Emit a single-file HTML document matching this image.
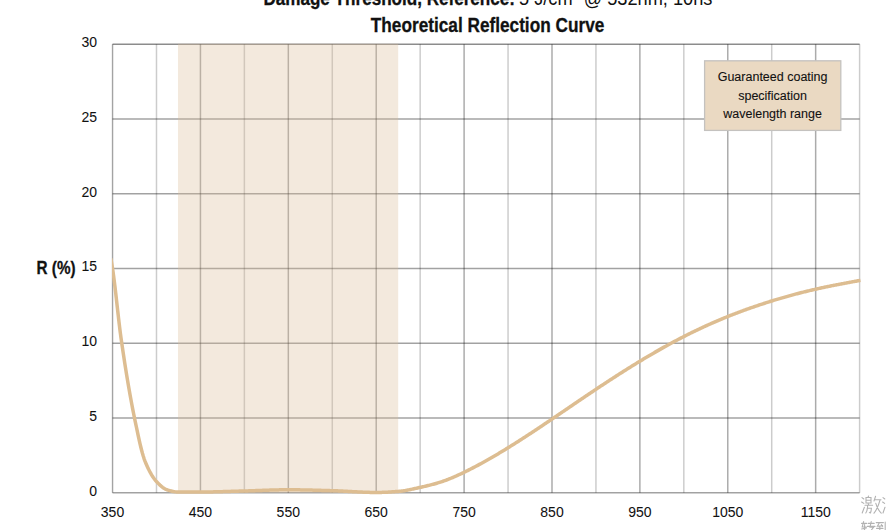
<!DOCTYPE html>
<html><head><meta charset="utf-8"><style>
html,body{margin:0;padding:0;background:#fff;width:886px;height:530px;overflow:hidden}
svg{display:block}
text{font-family:"Liberation Sans",sans-serif}
.ax{font-size:14px;fill:#111;stroke:#111;stroke-width:0.05px}
.b{font-weight:bold;stroke:#111;stroke-width:0.3px}
</style></head><body>
<svg width="886" height="530" viewBox="0 0 886 530">
<rect width="886" height="530" fill="#fff"/>
<text x="263.4" y="5.4" class="b" font-size="20" fill="#111" textLength="251.6" lengthAdjust="spacingAndGlyphs">Damage Threshold, Reference:</text>
<text x="519.0" y="5.4" font-size="20" fill="#111" textLength="193.4" lengthAdjust="spacingAndGlyphs">5 J/cm² @ 532nm, 10ns</text>
<text x="370.8" y="32" class="b" font-size="20" fill="#111" textLength="233.5" lengthAdjust="spacingAndGlyphs">Theoretical Reflection Curve</text>
<line x1="112.55" y1="44.35" x2="112.55" y2="492.77" stroke="#000" stroke-opacity="0.36" stroke-width="1.4"/><line x1="156.49" y1="44.35" x2="156.49" y2="492.77" stroke="#000" stroke-opacity="0.2" stroke-width="1.5"/><line x1="200.44" y1="44.35" x2="200.44" y2="492.77" stroke="#000" stroke-opacity="0.33" stroke-width="1.5"/><line x1="244.38" y1="44.35" x2="244.38" y2="492.77" stroke="#000" stroke-opacity="0.2" stroke-width="1.5"/><line x1="288.33" y1="44.35" x2="288.33" y2="492.77" stroke="#000" stroke-opacity="0.33" stroke-width="1.5"/><line x1="332.27" y1="44.35" x2="332.27" y2="492.77" stroke="#000" stroke-opacity="0.2" stroke-width="1.5"/><line x1="376.21" y1="44.35" x2="376.21" y2="492.77" stroke="#000" stroke-opacity="0.33" stroke-width="1.5"/><line x1="420.16" y1="44.35" x2="420.16" y2="492.77" stroke="#000" stroke-opacity="0.2" stroke-width="1.5"/><line x1="464.10" y1="44.35" x2="464.10" y2="492.77" stroke="#000" stroke-opacity="0.33" stroke-width="1.5"/><line x1="508.05" y1="44.35" x2="508.05" y2="492.77" stroke="#000" stroke-opacity="0.2" stroke-width="1.5"/><line x1="551.99" y1="44.35" x2="551.99" y2="492.77" stroke="#000" stroke-opacity="0.33" stroke-width="1.5"/><line x1="595.94" y1="44.35" x2="595.94" y2="492.77" stroke="#000" stroke-opacity="0.2" stroke-width="1.5"/><line x1="639.88" y1="44.35" x2="639.88" y2="492.77" stroke="#000" stroke-opacity="0.33" stroke-width="1.5"/><line x1="683.82" y1="44.35" x2="683.82" y2="492.77" stroke="#000" stroke-opacity="0.2" stroke-width="1.5"/><line x1="727.77" y1="44.35" x2="727.77" y2="492.77" stroke="#000" stroke-opacity="0.33" stroke-width="1.5"/><line x1="771.71" y1="44.35" x2="771.71" y2="492.77" stroke="#000" stroke-opacity="0.2" stroke-width="1.5"/><line x1="815.66" y1="44.35" x2="815.66" y2="492.77" stroke="#000" stroke-opacity="0.33" stroke-width="1.5"/><line x1="859.60" y1="44.35" x2="859.60" y2="492.77" stroke="#000" stroke-opacity="0.2" stroke-width="1.5"/><line x1="112.55" y1="492.77" x2="859.6" y2="492.77" stroke="#000" stroke-opacity="0.365" stroke-width="1.5"/><line x1="112.55" y1="418.03" x2="859.6" y2="418.03" stroke="#000" stroke-opacity="0.365" stroke-width="1.5"/><line x1="112.55" y1="343.30" x2="859.6" y2="343.30" stroke="#000" stroke-opacity="0.365" stroke-width="1.5"/><line x1="112.55" y1="268.56" x2="859.6" y2="268.56" stroke="#000" stroke-opacity="0.365" stroke-width="1.5"/><line x1="112.55" y1="193.82" x2="859.6" y2="193.82" stroke="#000" stroke-opacity="0.365" stroke-width="1.5"/><line x1="112.55" y1="119.09" x2="859.6" y2="119.09" stroke="#000" stroke-opacity="0.365" stroke-width="1.5"/><line x1="112.55" y1="44.35" x2="859.6" y2="44.35" stroke="#000" stroke-opacity="0.45" stroke-width="1.5"/>
<rect x="177.97" y="43.75" width="220.22" height="449.02" fill="rgb(219,188,152)" fill-opacity="0.33"/>
<clipPath id="pc"><rect x="111.9" y="0" width="749.1" height="530"/></clipPath>
<path d="M110.79,258.40 L111.01,259.58 L111.23,260.78 L111.45,261.99 L111.67,263.23 L111.89,264.50 L112.11,265.80 L112.33,267.16 L112.55,268.56 L112.77,270.02 L112.99,271.52 L113.21,273.07 L113.43,274.66 L113.65,276.30 L113.87,277.97 L114.09,279.67 L114.31,281.41 L114.53,283.18 L114.75,284.98 L114.97,286.80 L115.19,288.65 L115.41,290.52 L115.63,292.41 L115.85,294.31 L116.07,296.23 L116.29,298.16 L116.50,300.10 L116.72,302.04 L116.94,304.00 L117.16,305.95 L117.38,307.90 L117.60,309.85 L117.82,311.80 L118.04,313.73 L118.26,315.66 L118.48,317.58 L118.70,319.48 L118.92,321.36 L119.14,323.23 L119.36,325.07 L119.58,326.89 L119.80,328.69 L120.02,330.45 L120.24,332.19 L120.46,333.89 L120.68,335.55 L120.90,337.18 L121.12,338.76 L121.34,340.31 L122.22,346.33 L123.10,352.24 L123.98,358.04 L124.85,363.72 L125.73,369.28 L126.61,374.72 L127.49,380.03 L128.37,385.23 L129.25,390.30 L130.13,395.24 L131.01,400.06 L131.89,404.75 L132.76,409.31 L133.64,413.74 L134.52,418.03 L135.40,422.27 L136.28,426.51 L137.16,430.71 L138.04,434.85 L138.92,438.88 L139.80,442.78 L140.67,446.50 L141.55,450.02 L142.43,453.30 L143.31,456.31 L144.19,459.02 L145.07,461.38 L145.95,463.51 L146.83,465.55 L147.71,467.48 L148.58,469.32 L149.46,471.05 L150.34,472.70 L151.22,474.24 L152.10,475.69 L152.98,477.05 L153.86,478.32 L154.74,479.49 L155.62,480.57 L156.49,481.56 L157.37,482.49 L158.25,483.40 L159.13,484.28 L160.01,485.13 L160.89,485.92 L161.77,486.67 L162.65,487.36 L163.53,488.00 L164.40,488.56 L165.28,489.05 L166.16,489.46 L167.04,489.78 L167.92,490.05 L168.80,490.32 L169.68,490.58 L170.56,490.82 L171.44,491.05 L172.31,491.26 L173.19,491.44 L174.07,491.61 L174.95,491.75 L175.83,491.87 L176.71,491.95 L177.59,492.00 L178.47,492.02 L179.35,492.02 L180.22,492.02 L181.10,492.02 L181.98,492.02 L182.86,492.02 L183.74,492.02 L184.62,492.02 L185.50,492.02 L186.38,492.02 L187.25,492.02 L188.13,492.02 L189.01,492.02 L189.89,492.02 L190.77,492.02 L191.65,492.02 L192.53,492.02 L193.41,492.02 L194.29,492.02 L195.16,492.02 L196.04,492.02 L196.92,492.02 L197.80,492.02 L198.68,492.02 L199.56,492.02 L200.44,492.02 L201.32,492.02 L202.20,492.02 L203.07,492.02 L203.95,492.01 L204.83,492.00 L205.71,492.00 L206.59,491.99 L207.47,491.97 L208.35,491.96 L209.23,491.95 L210.11,491.94 L210.98,491.92 L211.86,491.90 L212.74,491.89 L213.62,491.87 L214.50,491.85 L215.38,491.83 L216.26,491.81 L217.14,491.78 L218.02,491.76 L218.89,491.74 L219.77,491.71 L220.65,491.69 L221.53,491.66 L222.41,491.64 L223.29,491.61 L224.17,491.59 L225.05,491.56 L225.93,491.53 L226.80,491.51 L227.68,491.48 L228.56,491.45 L229.44,491.42 L230.32,491.39 L231.20,491.37 L232.08,491.34 L232.96,491.31 L233.84,491.28 L234.71,491.26 L235.59,491.23 L236.47,491.20 L237.35,491.17 L238.23,491.15 L239.11,491.12 L239.99,491.10 L240.87,491.07 L241.75,491.05 L242.62,491.02 L243.50,491.00 L244.38,490.98 L245.26,490.95 L246.14,490.93 L247.02,490.90 L247.90,490.88 L248.78,490.85 L249.66,490.83 L250.53,490.80 L251.41,490.77 L252.29,490.74 L253.17,490.71 L254.05,490.68 L254.93,490.65 L255.81,490.62 L256.69,490.59 L257.57,490.55 L258.44,490.52 L259.32,490.49 L260.20,490.46 L261.08,490.43 L261.96,490.39 L262.84,490.36 L263.72,490.33 L264.60,490.30 L265.48,490.27 L266.35,490.24 L267.23,490.21 L268.11,490.18 L268.99,490.15 L269.87,490.12 L270.75,490.09 L271.63,490.07 L272.51,490.04 L273.39,490.02 L274.26,489.99 L275.14,489.97 L276.02,489.95 L276.90,489.93 L277.78,489.91 L278.66,489.89 L279.54,489.87 L280.42,489.85 L281.30,489.84 L282.17,489.83 L283.05,489.81 L283.93,489.80 L284.81,489.80 L285.69,489.79 L286.57,489.78 L287.45,489.78 L288.33,489.78 L289.21,489.78 L290.08,489.78 L290.96,489.79 L291.84,489.79 L292.72,489.79 L293.60,489.80 L294.48,489.81 L295.36,489.82 L296.24,489.83 L297.12,489.84 L297.99,489.85 L298.87,489.86 L299.75,489.87 L300.63,489.88 L301.51,489.90 L302.39,489.91 L303.27,489.93 L304.15,489.95 L305.03,489.96 L305.90,489.98 L306.78,490.00 L307.66,490.02 L308.54,490.04 L309.42,490.06 L310.30,490.08 L311.18,490.10 L312.06,490.12 L312.94,490.14 L313.81,490.17 L314.69,490.19 L315.57,490.21 L316.45,490.24 L317.33,490.26 L318.21,490.28 L319.09,490.31 L319.97,490.33 L320.85,490.36 L321.72,490.38 L322.60,490.41 L323.48,490.43 L324.36,490.46 L325.24,490.48 L326.12,490.51 L327.00,490.53 L327.88,490.56 L328.76,490.58 L329.63,490.60 L330.51,490.63 L331.39,490.65 L332.27,490.68 L333.15,490.70 L334.03,490.73 L334.91,490.76 L335.79,490.79 L336.67,490.82 L337.54,490.86 L338.42,490.90 L339.30,490.94 L340.18,490.98 L341.06,491.02 L341.94,491.06 L342.82,491.10 L343.70,491.15 L344.57,491.19 L345.45,491.24 L346.33,491.29 L347.21,491.34 L348.09,491.38 L348.97,491.43 L349.85,491.48 L350.73,491.53 L351.61,491.58 L352.48,491.63 L353.36,491.68 L354.24,491.72 L355.12,491.77 L356.00,491.82 L356.88,491.86 L357.76,491.91 L358.64,491.95 L359.52,492.00 L360.39,492.04 L361.27,492.08 L362.15,492.12 L363.03,492.16 L363.91,492.20 L364.79,492.23 L365.67,492.26 L366.55,492.29 L367.43,492.32 L368.30,492.35 L369.18,492.37 L370.06,492.40 L370.94,492.41 L371.82,492.43 L372.70,492.45 L373.58,492.46 L374.46,492.46 L375.34,492.47 L376.21,492.47 L377.09,492.47 L377.97,492.46 L378.85,492.45 L379.73,492.44 L380.61,492.42 L381.49,492.39 L382.37,492.36 L383.25,492.33 L384.12,492.30 L385.00,492.26 L385.88,492.22 L386.76,492.18 L387.64,492.13 L388.52,492.08 L389.40,492.03 L390.28,491.98 L391.16,491.92 L392.03,491.87 L392.91,491.81 L393.79,491.75 L394.67,491.68 L395.55,491.62 L396.43,491.56 L397.31,491.49 L398.19,491.42 L399.07,491.35 L399.94,491.27 L400.82,491.17 L401.70,491.06 L402.58,490.94 L403.46,490.82 L404.34,490.68 L405.22,490.54 L406.10,490.38 L406.98,490.22 L407.85,490.06 L408.73,489.88 L409.61,489.71 L410.49,489.52 L411.37,489.34 L412.25,489.15 L413.13,488.95 L414.01,488.76 L414.89,488.56 L415.76,488.36 L416.64,488.17 L417.52,487.97 L418.40,487.78 L419.28,487.58 L420.16,487.39 L421.04,487.20 L421.92,487.00 L422.80,486.80 L423.67,486.60 L424.55,486.40 L425.43,486.19 L426.31,485.99 L427.19,485.77 L428.07,485.56 L428.95,485.34 L429.83,485.12 L430.71,484.89 L431.58,484.66 L432.46,484.43 L433.34,484.19 L434.22,483.95 L435.10,483.71 L435.98,483.46 L436.86,483.20 L437.74,482.94 L438.62,482.68 L439.49,482.41 L440.37,482.13 L441.25,481.85 L442.13,481.56 L443.01,481.26 L443.89,480.96 L444.77,480.65 L445.65,480.32 L446.53,480.00 L447.40,479.66 L448.28,479.32 L449.16,478.97 L450.04,478.62 L450.92,478.25 L451.80,477.89 L452.68,477.52 L453.56,477.14 L454.44,476.76 L455.31,476.37 L456.19,475.98 L457.07,475.59 L457.95,475.19 L458.83,474.78 L459.71,474.38 L460.59,473.97 L461.47,473.55 L462.35,473.14 L463.22,472.72 L464.10,472.29 L464.98,471.87 L465.86,471.44 L466.74,471.00 L467.62,470.57 L468.50,470.13 L469.38,469.68 L470.26,469.24 L471.13,468.79 L472.01,468.34 L472.89,467.88 L473.77,467.43 L474.65,466.97 L475.53,466.51 L476.41,466.04 L477.29,465.58 L478.17,465.11 L479.04,464.63 L479.92,464.16 L480.80,463.68 L481.68,463.20 L482.56,462.72 L483.44,462.23 L484.32,461.75 L485.20,461.26 L486.08,460.77 L486.95,460.27 L487.83,459.77 L488.71,459.28 L489.59,458.77 L490.47,458.27 L491.35,457.77 L492.23,457.26 L493.11,456.75 L493.98,456.24 L494.86,455.72 L495.74,455.21 L496.62,454.69 L497.50,454.17 L498.38,453.65 L499.26,453.12 L500.14,452.60 L501.02,452.07 L501.89,451.54 L502.77,451.01 L503.65,450.47 L504.53,449.94 L505.41,449.40 L506.29,448.86 L507.17,448.32 L508.05,447.78 L508.93,447.23 L509.80,446.69 L510.68,446.14 L511.56,445.59 L512.44,445.04 L513.32,444.49 L514.20,443.94 L515.08,443.38 L515.96,442.83 L516.84,442.27 L517.71,441.71 L518.59,441.15 L519.47,440.59 L520.35,440.03 L521.23,439.46 L522.11,438.89 L522.99,438.33 L523.87,437.76 L524.75,437.19 L525.62,436.62 L526.50,436.05 L527.38,435.48 L528.26,434.90 L529.14,434.33 L530.02,433.75 L530.90,433.17 L531.78,432.60 L532.66,432.02 L533.53,431.44 L534.41,430.85 L535.29,430.27 L536.17,429.69 L537.05,429.11 L537.93,428.52 L538.81,427.94 L539.69,427.35 L540.57,426.76 L541.44,426.18 L542.32,425.59 L543.20,425.00 L544.08,424.41 L544.96,423.82 L545.84,423.23 L546.72,422.64 L547.60,422.05 L548.48,421.45 L549.35,420.86 L550.23,420.27 L551.11,419.67 L551.99,419.08 L552.87,418.49 L553.75,417.89 L554.63,417.29 L555.51,416.70 L556.39,416.10 L557.26,415.51 L558.14,414.91 L559.02,414.31 L559.90,413.72 L560.78,413.12 L561.66,412.52 L562.54,411.92 L563.42,411.33 L564.30,410.73 L565.17,410.13 L566.05,409.53 L566.93,408.94 L567.81,408.34 L568.69,407.74 L569.57,407.14 L570.45,406.54 L571.33,405.95 L572.21,405.35 L573.08,404.75 L573.96,404.15 L574.84,403.56 L575.72,402.96 L576.60,402.36 L577.48,401.77 L578.36,401.17 L579.24,400.57 L580.12,399.98 L580.99,399.38 L581.87,398.79 L582.75,398.19 L583.63,397.60 L584.51,397.01 L585.39,396.41 L586.27,395.82 L587.15,395.23 L588.03,394.63 L588.90,394.04 L589.78,393.45 L590.66,392.86 L591.54,392.27 L592.42,391.68 L593.30,391.10 L594.18,390.51 L595.06,389.92 L595.94,389.33 L596.81,388.75 L597.69,388.16 L598.57,387.58 L599.45,387.00 L600.33,386.41 L601.21,385.83 L602.09,385.25 L602.97,384.67 L603.85,384.09 L604.72,383.51 L605.60,382.94 L606.48,382.36 L607.36,381.79 L608.24,381.21 L609.12,380.64 L610.00,380.06 L610.88,379.49 L611.76,378.92 L612.63,378.35 L613.51,377.78 L614.39,377.21 L615.27,376.65 L616.15,376.08 L617.03,375.52 L617.91,374.95 L618.79,374.39 L619.67,373.83 L620.54,373.27 L621.42,372.71 L622.30,372.15 L623.18,371.59 L624.06,371.04 L624.94,370.48 L625.82,369.93 L626.70,369.37 L627.58,368.82 L628.45,368.27 L629.33,367.72 L630.21,367.17 L631.09,366.63 L631.97,366.08 L632.85,365.54 L633.73,365.00 L634.61,364.45 L635.49,363.91 L636.36,363.38 L637.24,362.84 L638.12,362.30 L639.00,361.77 L639.88,361.23 L640.76,360.70 L641.64,360.17 L642.52,359.64 L643.39,359.11 L644.27,358.59 L645.15,358.06 L646.03,357.54 L646.91,357.02 L647.79,356.50 L648.67,355.98 L649.55,355.46 L650.43,354.94 L651.30,354.43 L652.18,353.92 L653.06,353.40 L653.94,352.89 L654.82,352.39 L655.70,351.88 L656.58,351.37 L657.46,350.87 L658.34,350.37 L659.21,349.87 L660.09,349.37 L660.97,348.87 L661.85,348.38 L662.73,347.88 L663.61,347.39 L664.49,346.90 L665.37,346.41 L666.25,345.93 L667.12,345.44 L668.00,344.96 L668.88,344.48 L669.76,344.00 L670.64,343.52 L671.52,343.04 L672.40,342.57 L673.28,342.10 L674.16,341.62 L675.03,341.16 L675.91,340.69 L676.79,340.22 L677.67,339.76 L678.55,339.30 L679.43,338.84 L680.31,338.38 L681.19,337.93 L682.07,337.47 L682.94,337.02 L683.82,336.57 L684.70,336.12 L685.58,335.68 L686.46,335.23 L687.34,334.79 L688.22,334.35 L689.10,333.91 L689.98,333.48 L690.85,333.04 L691.73,332.61 L692.61,332.18 L693.49,331.75 L694.37,331.33 L695.25,330.90 L696.13,330.48 L697.01,330.06 L697.89,329.64 L698.76,329.22 L699.64,328.81 L700.52,328.40 L701.40,327.98 L702.28,327.58 L703.16,327.17 L704.04,326.76 L704.92,326.36 L705.80,325.96 L706.67,325.56 L707.55,325.16 L708.43,324.77 L709.31,324.37 L710.19,323.98 L711.07,323.59 L711.95,323.20 L712.83,322.82 L713.71,322.43 L714.58,322.05 L715.46,321.67 L716.34,321.29 L717.22,320.91 L718.10,320.54 L718.98,320.17 L719.86,319.80 L720.74,319.43 L721.62,319.06 L722.49,318.69 L723.37,318.33 L724.25,317.97 L725.13,317.61 L726.01,317.25 L726.89,316.90 L727.77,316.54 L728.65,316.19 L729.53,315.84 L730.40,315.49 L731.28,315.14 L732.16,314.80 L733.04,314.45 L733.92,314.11 L734.80,313.77 L735.68,313.43 L736.56,313.10 L737.44,312.76 L738.31,312.43 L739.19,312.10 L740.07,311.77 L740.95,311.44 L741.83,311.12 L742.71,310.79 L743.59,310.47 L744.47,310.15 L745.35,309.83 L746.22,309.51 L747.10,309.20 L747.98,308.88 L748.86,308.57 L749.74,308.26 L750.62,307.95 L751.50,307.64 L752.38,307.34 L753.26,307.03 L754.13,306.73 L755.01,306.43 L755.89,306.13 L756.77,305.83 L757.65,305.54 L758.53,305.24 L759.41,304.95 L760.29,304.66 L761.17,304.37 L762.04,304.08 L762.92,303.79 L763.80,303.50 L764.68,303.22 L765.56,302.94 L766.44,302.65 L767.32,302.37 L768.20,302.10 L769.08,301.82 L769.95,301.54 L770.83,301.27 L771.71,301.00 L772.59,300.72 L773.47,300.45 L774.35,300.19 L775.23,299.92 L776.11,299.65 L776.99,299.39 L777.86,299.12 L778.74,298.86 L779.62,298.60 L780.50,298.34 L781.38,298.09 L782.26,297.83 L783.14,297.58 L784.02,297.32 L784.89,297.07 L785.77,296.82 L786.65,296.57 L787.53,296.32 L788.41,296.08 L789.29,295.83 L790.17,295.59 L791.05,295.35 L791.93,295.11 L792.80,294.87 L793.68,294.63 L794.56,294.40 L795.44,294.16 L796.32,293.93 L797.20,293.70 L798.08,293.47 L798.96,293.24 L799.84,293.01 L800.71,292.79 L801.59,292.57 L802.47,292.34 L803.35,292.12 L804.23,291.90 L805.11,291.68 L805.99,291.47 L806.87,291.25 L807.75,291.04 L808.62,290.83 L809.50,290.62 L810.38,290.41 L811.26,290.20 L812.14,290.00 L813.02,289.79 L813.90,289.59 L814.78,289.39 L815.66,289.19 L816.53,288.99 L817.41,288.79 L818.29,288.60 L819.17,288.40 L820.05,288.21 L820.93,288.02 L821.81,287.83 L822.69,287.64 L823.57,287.46 L824.44,287.27 L825.32,287.08 L826.20,286.90 L827.08,286.72 L827.96,286.54 L828.84,286.36 L829.72,286.18 L830.60,286.00 L831.48,285.82 L832.35,285.65 L833.23,285.47 L834.11,285.30 L834.99,285.13 L835.87,284.95 L836.75,284.78 L837.63,284.61 L838.51,284.44 L839.39,284.27 L840.26,284.11 L841.14,283.94 L842.02,283.77 L842.90,283.60 L843.78,283.44 L844.66,283.27 L845.54,283.11 L846.42,282.94 L847.30,282.78 L848.17,282.62 L849.05,282.45 L849.93,282.29 L850.81,282.13 L851.69,281.97 L852.57,281.81 L853.45,281.64 L854.33,281.48 L855.21,281.32 L856.08,281.16 L856.96,281.00 L857.84,280.84 L858.72,280.68 L859.60,280.52 L860.48,280.36" fill="none" stroke="#ddbd91" stroke-width="3.5" stroke-linejoin="round" stroke-linecap="butt" clip-path="url(#pc)"/>
<text x="97.1" y="495.5" text-anchor="end" class="ax">0</text><text x="97.1" y="420.7" text-anchor="end" class="ax">5</text><text x="97.1" y="346.0" text-anchor="end" class="ax">10</text><text x="97.1" y="271.3" text-anchor="end" class="ax">15</text><text x="97.1" y="196.5" text-anchor="end" class="ax">20</text><text x="97.1" y="121.8" text-anchor="end" class="ax">25</text><text x="97.1" y="47.1" text-anchor="end" class="ax">30</text>
<text x="112.5" y="517" text-anchor="middle" class="ax">350</text><text x="200.4" y="517" text-anchor="middle" class="ax">450</text><text x="288.3" y="517" text-anchor="middle" class="ax">550</text><text x="376.2" y="517" text-anchor="middle" class="ax">650</text><text x="464.1" y="517" text-anchor="middle" class="ax">750</text><text x="552.0" y="517" text-anchor="middle" class="ax">850</text><text x="639.9" y="517" text-anchor="middle" class="ax">950</text><text x="727.8" y="517" text-anchor="middle" class="ax">1050</text><text x="815.7" y="517" text-anchor="middle" class="ax">1150</text>
<text x="36.6" y="274.2" class="b" font-size="18" fill="#111" textLength="39" lengthAdjust="spacingAndGlyphs">R (%)</text>
<rect x="704.6" y="60.8" width="136.2" height="69.6" fill="#ead9c2" stroke="#c4c2bf" stroke-width="1.3"/>
<text x="772.6" y="80.9" text-anchor="middle" font-size="12.5" fill="#111" stroke="#111" stroke-width="0.1">Guaranteed coating</text>
<text x="772.6" y="99.6" text-anchor="middle" font-size="12.5" fill="#111" stroke="#111" stroke-width="0.1">specification</text>
<text x="772.6" y="117.6" text-anchor="middle" font-size="12.5" fill="#111" stroke="#111" stroke-width="0.1">wavelength range</text>
<g fill="none" stroke="#b2b2b2" stroke-width="1.1" stroke-linecap="round">
<path d="M862,497.6 L863.8,499 M861.6,502 L863.8,503.4 M862.2,513 L864.4,507.2"/>
<path d="M866,497.5 H871 V503 H866 Z M866,500.2 H871 M868.6,496 L868,497.3"/>
<path d="M868.2,503.6 L868.6,504.4 M865,505.2 H872.6 M867.6,505.4 Q867.6,510.5 865.8,513 M867.2,508.2 H871.4 Q871.2,512 870.2,513 L869.4,512.4"/>
<path d="M875.6,496.2 L874,501 M874.6,499.8 H881 M880,500.2 Q878,508 874,513.2 M875.8,503.4 Q877.6,509.5 881.2,513.2"/>
<path d="M883,497.6 L884.8,499 M882.6,502 L884.6,503.4 M883,513 L885,507.2"/>
<path d="M861.6,523.4 H866.6 M863.6,521.6 L862.2,527 H866.4 M864.6,524.6 V530 M861.6,529 L866.4,528"/>
<path d="M868.2,523.4 H874.2 M867.4,526.4 H875 M871.2,521.6 L870,527.2 H873.6 L871.4,530"/>
<path d="M876.2,522.6 H883.4 M879.4,522.8 L877.4,526.2 L882.6,525.8 M881.4,524.6 L882.6,526.4 M876.6,528.4 H883 M879.8,526.4 V530 M885.2,522 V530"/>
</g>
</svg>
</body></html>
